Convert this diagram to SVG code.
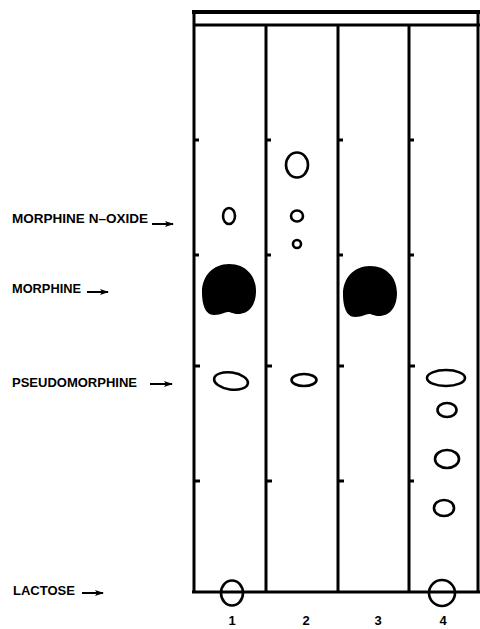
<svg xmlns="http://www.w3.org/2000/svg" width="480" height="629" viewBox="0 0 480 629">
<style>
.ln{stroke:#000;stroke-width:3;fill:none}
.sp{stroke:#000;stroke-width:2.6;fill:none}
.bl{fill:#000}
.lb{font-family:"Liberation Sans",Arial,sans-serif;font-weight:bold;font-size:13px;fill:#000}
.nm{font-family:"Liberation Sans",Arial,sans-serif;font-weight:bold;font-size:13px;fill:#000;text-anchor:middle}
.ar{stroke:#000;stroke-width:2;fill:none;marker-end:url(#ah)}
</style>
<defs>
<marker id="ah" markerWidth="9" markerHeight="6" refX="8" refY="3" orient="auto" markerUnits="userSpaceOnUse">
<path d="M0,0 L9,3 L0,6 L2,3 Z" fill="#000"/>
</marker>
</defs>
<rect width="480" height="629" fill="#fff"/>
<g id="plate">
<line class="ln" x1="192" y1="12" x2="480" y2="12" style="stroke-width:4"/>
<line class="ln" x1="194" y1="25" x2="480" y2="25"/>
<line class="ln" x1="194" y1="10" x2="194" y2="593"/>
<line class="ln" x1="266" y1="25" x2="266" y2="593"/>
<line class="ln" x1="338" y1="25" x2="338" y2="593"/>
<line class="ln" x1="409" y1="25" x2="409" y2="593"/>
<line class="ln" x1="478" y1="10" x2="478" y2="593"/>
<line class="ln" x1="192" y1="592" x2="480" y2="592"/>
</g>
<g id="ticks" class="ln">
<path d="M194 140h5M266 140h5M338 140h5M409 140h5"/>
<path d="M194 255h5M266 255h5M338 255h5M409 255h5"/>
<path d="M194 366h6M266 366h6M338 366h6M409 366h6"/>
<path d="M194 481h6M266 481h6M338 481h6M409 481h5"/>
</g>
<g id="lane1">
<ellipse class="sp" cx="229" cy="216" rx="6" ry="8"/>
<path class="bl" d="M229 264 C246 264 256 276 256 291 C256 305 249 314 238 314 C233 314 231 312 228 312 C224 312 222 315 214 315 C205 315 202 304 202 292 C202 276 213 264 229 264 Z"/>
<ellipse class="sp" cx="231" cy="381" rx="17" ry="8.5" transform="rotate(8 231 381)"/>
<ellipse class="sp" cx="232" cy="593" rx="11" ry="12.5"/>
</g>
<g id="lane2">
<ellipse class="sp" cx="297" cy="165" rx="11" ry="12.5"/>
<ellipse class="sp" cx="297" cy="216" rx="6" ry="5.5"/>
<ellipse class="sp" cx="297" cy="244" rx="4" ry="4"/>
<ellipse class="sp" cx="304" cy="380" rx="12.5" ry="6"/>
</g>
<g id="lane3">
<path class="bl" d="M370 266 C387 266 397 278 397 293 C397 307 390 316 379 316 C374 316 372 314 369 314 C365 314 363 317 355 317 C346 317 343 306 343 294 C343 278 354 266 370 266 Z"/>
</g>
<g id="lane4">
<ellipse class="sp" cx="446" cy="378" rx="19" ry="8"/>
<ellipse class="sp" cx="447" cy="410" rx="9.5" ry="7"/>
<ellipse class="sp" cx="447" cy="459" rx="12" ry="9"/>
<ellipse class="sp" cx="444" cy="508" rx="10" ry="8"/>
<ellipse class="sp" cx="442" cy="593" rx="13" ry="13"/>
</g>
<g id="labels">
<text class="lb" x="12" y="223" textLength="136" lengthAdjust="spacingAndGlyphs">MORPHINE N–OXIDE</text>
<text class="lb" x="12" y="293" textLength="69" lengthAdjust="spacingAndGlyphs">MORPHINE</text>
<text class="lb" x="12" y="387" textLength="125" lengthAdjust="spacingAndGlyphs">PSEUDOMORPHINE</text>
<text class="lb" x="13" y="595" textLength="62" lengthAdjust="spacingAndGlyphs">LACTOSE</text>
</g>
<g id="connectors">
<line class="ar" x1="152" y1="224" x2="173" y2="224"/>
<line class="ar" x1="87" y1="292" x2="108" y2="292"/>
<line class="ar" x1="150" y1="384" x2="172" y2="384"/>
<line class="ar" x1="82" y1="593" x2="103" y2="593"/>
</g>
<g id="numbers">
<text class="nm" x="232" y="625">1</text>
<text class="nm" x="306" y="625">2</text>
<text class="nm" x="378" y="625">3</text>
<text class="nm" x="443" y="625">4</text>
</g>
</svg>
